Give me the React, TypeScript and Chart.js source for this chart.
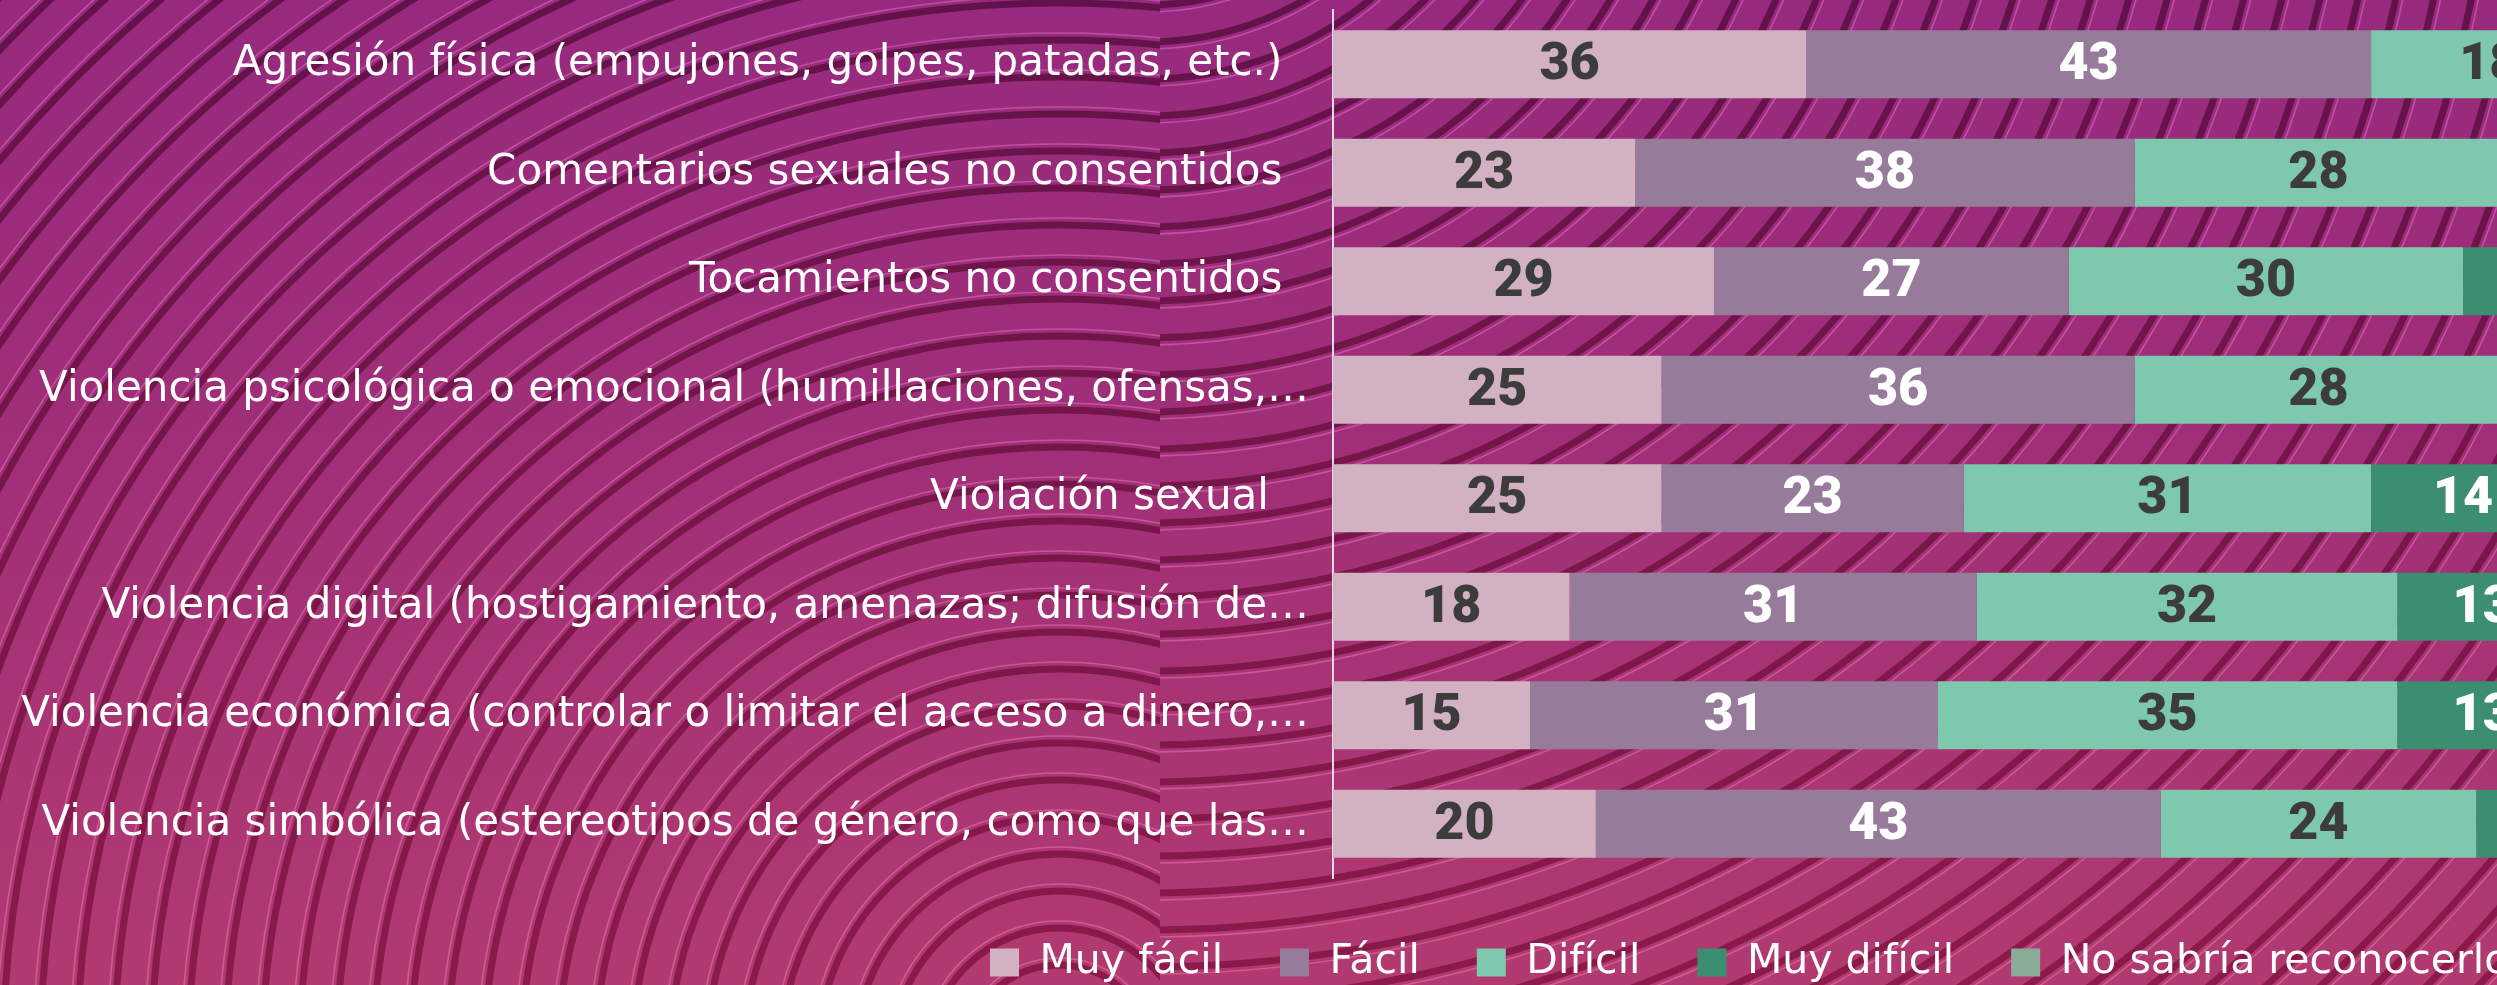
import React, { useEffect, useRef } from "react";
import { Chart, registerables } from "chart.js";

Chart.register(...registerables);

const categories = [
  "Agresión física (empujones, golpes, patadas, etc.)  ",
  "Comentarios sexuales no consentidos  ",
  "Tocamientos no consentidos  ",
  "Violencia psicológica o emocional (humillaciones, ofensas,…",
  "Violación sexual   ",
  "Violencia digital (hostigamiento, amenazas; difusión de…",
  "Violencia económica (controlar o limitar el acceso a dinero,…",
  "Violencia simbólica (estereotipos de género, como que las…",
];

const seriesNames = ["Muy fácil", "Fácil", "Difícil", "Muy difícil", "No sabría reconocerlo"];

const muyFacil = [36, 23, 29, 25, 25, 18, 15, 20];
const facil = [43, 38, 27, 36, 23, 31, 31, 43];
const dificil = [18, 28, 30, 28, 31, 32, 35, 24];
const muyDificil = [2, 8, 11, 8, 14, 13, 13, 10];
const noSabria = [1, 3, 3, 3, 7, 6, 6, 3];

const seriesColors = ["#d2b1c3", "#977b9b", "#7ec8ad", "#3b8e70", "#8aab98"];
const valueColors = ["#3c3c3c", "#ffffff", "#3c3c3c", "#ffffff", "#ffffff"];

const CANVAS_W = 2800;
const CANVAS_H = 993;
const AXIS_LEFT = 1333;
const LEGEND_LEFT = 933;

const backgroundPlugin = {
  id: "stripedBackground",
  beforeDraw(chart: any) {
    const { ctx, width, height } = chart;
    ctx.save();
    const g = ctx.createLinearGradient(0, 0, 0, height);
    g.addColorStop(0, "#972a7e");
    g.addColorStop(0.45, "#a02f78");
    g.addColorStop(1, "#b23a70");
    ctx.fillStyle = g;
    ctx.fillRect(0, 0, width, height);

    const dark = ctx.createLinearGradient(0, 0, 0, height);
    dark.addColorStop(0, "#62124a");
    dark.addColorStop(1, "#8c1a4a");
    const light = ctx.createLinearGradient(0, 0, 0, height);
    light.addColorStop(0, "rgba(196,84,170,0.85)");
    light.addColorStop(1, "rgba(214,96,150,0.85)");

    const systems = [
      { cx: 1059, cy: 1059, x0: 0, x1: 1160 },
      { cx: 1147, cy: -274, x0: 1160, x1: width },
    ];
    for (const s of systems) {
      ctx.save();
      ctx.beginPath();
      ctx.rect(s.x0, 0, s.x1 - s.x0, height);
      ctx.clip();
      for (let r = 20; r < 3200; r += 37) {
        ctx.beginPath();
        ctx.arc(s.cx, s.cy, r, 0, Math.PI * 2);
        ctx.strokeStyle = dark;
        ctx.lineWidth = 7;
        ctx.stroke();
        ctx.beginPath();
        ctx.arc(s.cx, s.cy, r + 7, 0, Math.PI * 2);
        ctx.strokeStyle = light;
        ctx.lineWidth = 1.6;
        ctx.stroke();
      }
      ctx.restore();
    }
    ctx.restore();
  },
};

const legendOffsetPlugin = {
  id: "legendOffset",
  afterLayout(chart: any) {
    const lg = chart.legend;
    if (lg) {
      lg.left = LEGEND_LEFT;
    }
  },
};

const valueLabelPlugin = {
  id: "valueLabels",
  afterDatasetsDraw(chart: any) {
    const ctx = chart.ctx;
    ctx.save();
    ctx.font = "900 52px Roboto";
    ctx.textAlign = "center";
    ctx.textBaseline = "middle";
    chart.data.datasets.forEach((ds: any, di: number) => {
      const meta = chart.getDatasetMeta(di);
      meta.data.forEach((bar: any, i: number) => {
        const v = ds.data[i];
        const { x, y, base } = bar.getProps(["x", "y", "base"], true);
        ctx.fillStyle = valueColors[di];
        ctx.fillText(String(v), (x + base) / 2, y + 2);
      });
    });
    ctx.restore();
  },
};

export default function App() {
  const canvasRef = useRef<HTMLCanvasElement | null>(null);

  useEffect(() => {
    if (!canvasRef.current) return;
    const seriesValues = [muyFacil, facil, dificil, muyDificil, noSabria];
    const chart = new Chart(canvasRef.current, {
      type: "bar",
      data: {
        labels: categories,
        datasets: seriesNames.map((name, i) => ({
          label: name,
          data: seriesValues[i],
          backgroundColor: seriesColors[i],
          borderWidth: 0,
          barPercentage: 0.627,
          categoryPercentage: 1,
        })),
      },
      options: {
        indexAxis: "y",
        responsive: false,
        animation: false,
        devicePixelRatio: 1,
        layout: { padding: { left: 0, right: 153, top: 10, bottom: 0 } },
        scales: {
          x: {
            stacked: true,
            min: 0,
            max: 100,
            display: true,
            grid: { display: false },
            border: { display: false },
            ticks: { display: false },
            afterFit: (s: any) => {
              s.height = 7;
              s.paddingLeft = 0;
              s.paddingRight = 0;
            },
          },
          y: {
            stacked: true,
            grid: { display: false, drawTicks: false },
            border: { display: true, color: "rgba(236,224,236,0.95)", width: 2 },
            ticks: {
              color: "#ffffff",
              font: { family: "'DejaVu Sans'", size: 42 },
              padding: 24,
              autoSkip: false,
            },
            afterFit: (s: any) => {
              s.width = AXIS_LEFT;
              s.paddingTop = 0;
              s.paddingBottom = 0;
            },
          },
        },
        plugins: {
          legend: {
            position: "bottom",
            align: "start",
            labels: {
              color: "#ffffff",
              font: { family: "'DejaVu Sans'", size: 41 },
              boxWidth: 29,
              boxHeight: 28,
              padding: 57,
            },
          },
          tooltip: { enabled: false },
        },
      },
      plugins: [backgroundPlugin, legendOffsetPlugin, valueLabelPlugin],
    } as any);
    return () => chart.destroy();
  }, []);

  return (
    <div
      style={{
        position: "fixed",
        left: 0,
        top: 0,
        width: "100vw",
        height: "100vh",
        overflow: "hidden",
        background: "#a02f78",
      }}
    >
      <canvas
        ref={canvasRef}
        width={CANVAS_W}
        height={CANVAS_H}
        style={{ display: "block", width: CANVAS_W + "px", height: CANVAS_H + "px" }}
      />
    </div>
  );
}
